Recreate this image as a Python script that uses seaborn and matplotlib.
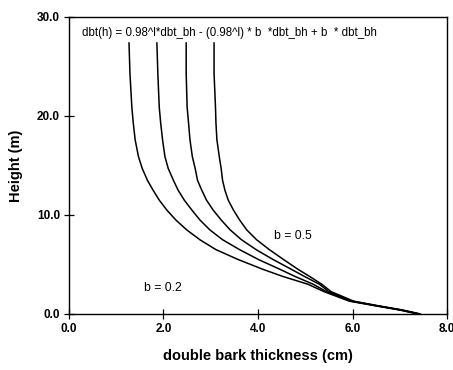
import pandas as pd
import numpy as np
import matplotlib
matplotlib.use("Agg")
import matplotlib.pyplot as plt
import seaborn as sns

# values: height (m) and double bark thickness (cm)
height = [27.4, 24.3, 20.9, 19.3, 17.6, 15.9, 14.7, 13.5, 12.5, 11.5, 10.5, 9.5, 8.5,
          7.5, 6.5, 5.5, 4.5, 3.8, 3.0, 2.25, 1.3, 0.85, 0.4, 0.0]
dbt_b02 = [1.27, 1.29, 1.33, 1.36, 1.40, 1.47, 1.55, 1.66, 1.78, 1.91, 2.07, 2.26, 2.49,
           2.77, 3.11, 3.58, 4.11, 4.52, 5.06, 5.40, 5.93, 6.46, 7.00, 7.38]
dbt_b03 = [1.86, 1.88, 1.91, 1.94, 1.98, 2.03, 2.10, 2.21, 2.31, 2.44, 2.60, 2.77, 2.98,
           3.25, 3.61, 4.01, 4.47, 4.78, 5.17, 5.45, 5.96, 6.48, 7.02, 7.40]
dbt_b04 = [2.48, 2.48, 2.50, 2.53, 2.56, 2.61, 2.67, 2.72, 2.81, 2.91, 3.05, 3.22, 3.41,
           3.65, 3.96, 4.32, 4.71, 4.98, 5.30, 5.50, 5.99, 6.50, 7.04, 7.42]
dbt_b05 = [3.07, 3.07, 3.10, 3.11, 3.13, 3.18, 3.22, 3.25, 3.30, 3.37, 3.48, 3.61, 3.76,
           3.97, 4.24, 4.54, 4.85, 5.09, 5.35, 5.55, 6.02, 6.52, 7.06, 7.44]

b_values = ["0.2", "0.3", "0.4", "0.5"]
x_ticks = [0, 2, 4, 6, 8]
x_ticklabels = ["0.0", "2.0", "4.0", "6.0", "8.0"]
y_ticks = [0, 10, 20, 30]
y_ticklabels = ["0.0", "10.0", "20.0", "30.0"]

frames = []
for b, vals in zip(b_values, [dbt_b02, dbt_b03, dbt_b04, dbt_b05]):
    frames.append(pd.DataFrame({"dbt": vals, "h": height, "b": b}))
df = pd.concat(frames, ignore_index=True)

sns.set_style("white")
plt.rcParams["font.family"] = ["Liberation Sans", "DejaVu Sans"]
plt.rcParams["text.color"] = "black"

fig = plt.figure(figsize=(4.53, 3.70), dpi=100)
ax = fig.add_axes([0.1523, 0.1514, 0.8345, 0.8027])

sns.lineplot(data=df, x="dbt", y="h", units="b", estimator=None, sort=False,
             color="black", linewidth=1.1, ax=ax, legend=False)

ax.set_xlim(0, 8)
ax.set_ylim(0, 30)
ax.set_xticks(x_ticks)
ax.set_xticklabels(x_ticklabels, fontweight="bold", fontsize=8.5)
ax.set_yticks(y_ticks)
ax.set_yticklabels(y_ticklabels, fontweight="bold", fontsize=8.5)
ax.tick_params(bottom=True, left=True, direction="inout", length=7, width=0.9,
               colors="black")
ax.tick_params(axis="x", pad=3)
ax.tick_params(axis="y", pad=3)
for s in ax.spines.values():
    s.set_color("black")
    s.set_linewidth(1.0)

ax.set_xlabel("double bark thickness (cm)", fontweight="bold", fontsize=10.5,
              labelpad=10, color="black")
ax.set_ylabel("Height (m)", fontweight="bold", fontsize=10.5, labelpad=10, color="black")

ax.text(0.28, 28.4, "dbt(h) = 0.98^l*dbt_bh - (0.98^l) * b  *dbt_bh + b  * dbt_bh",
        fontsize=8.3, va="center", ha="left", color="black")
ax.text(1.99, 2.6, "b = 0.2", fontsize=8.8, ha="center", va="center", color="black")
ax.text(4.74, 7.9, "b = 0.5", fontsize=8.8, ha="center", va="center", color="black")

fig.savefig("out.png", dpi=100)
